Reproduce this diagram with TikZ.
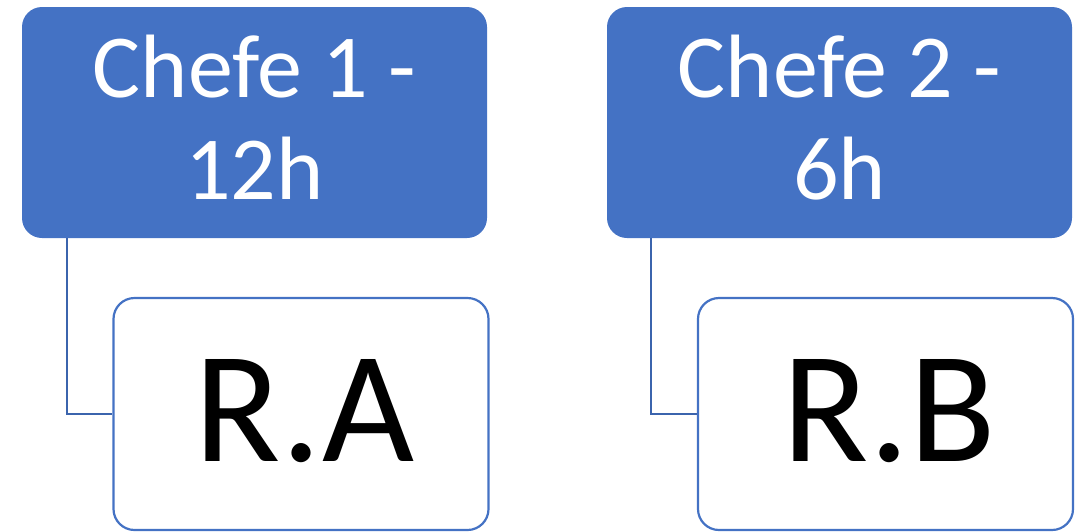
\documentclass[tikz,border=0pt]{standalone}
\usepackage{fontspec}
\setmainfont{Carlito}
\definecolor{boxblue}{HTML}{4472C4}
\definecolor{linkblue}{HTML}{3B64AD}
\newcommand{\twolines}[2]{\raisebox{-6pt}[\height][\depth]{\begin{tabular}{@{}c@{}}#1\\#2\end{tabular}}}
\newcommand{\bigtext}[1]{\hspace*{8pt}\raisebox{3pt}[\height][\depth]{#1}}
\begin{document}
\begin{tikzpicture}[x=1pt,y=1pt,
  chefbox/.style={fill=boxblue, draw=none, rounded corners=20pt, inner sep=0pt,
    minimum width=465pt, minimum height=231pt, text=white, align=center,
    font=\fontsize{90}{102}\selectfont},
  restbox/.style={fill=white, draw=boxblue, line width=2.2pt, rounded corners=21pt, inner sep=0pt,
    minimum width=375pt, minimum height=232pt, text=black,
    font=\fontsize{159}{180}\selectfont},
  link/.style={draw=linkblue, line width=2.2pt}]
\useasboundingbox (0,0) rectangle (1086,-531);
\node[chefbox] (c1) at (254.5,-122.5) {\twolines{Chefe 1 -}{12h}};
\node[chefbox] (c2) at (839.5,-122.5) {\twolines{Chefe 2 -}{6h}};
\node[restbox] (r1) at (301,-414) {\bigtext{R.A}};
\node[restbox] (r2) at (885.5,-414) {\bigtext{R.B}};
\coordinate (k1) at ([xshift=45pt]c1.south west);
\coordinate (k2) at ([xshift=44pt]c2.south west);
\draw[link] (k1) |- (r1.west);
\draw[link] (k2) |- (r2.west);
\end{tikzpicture}
\end{document}
